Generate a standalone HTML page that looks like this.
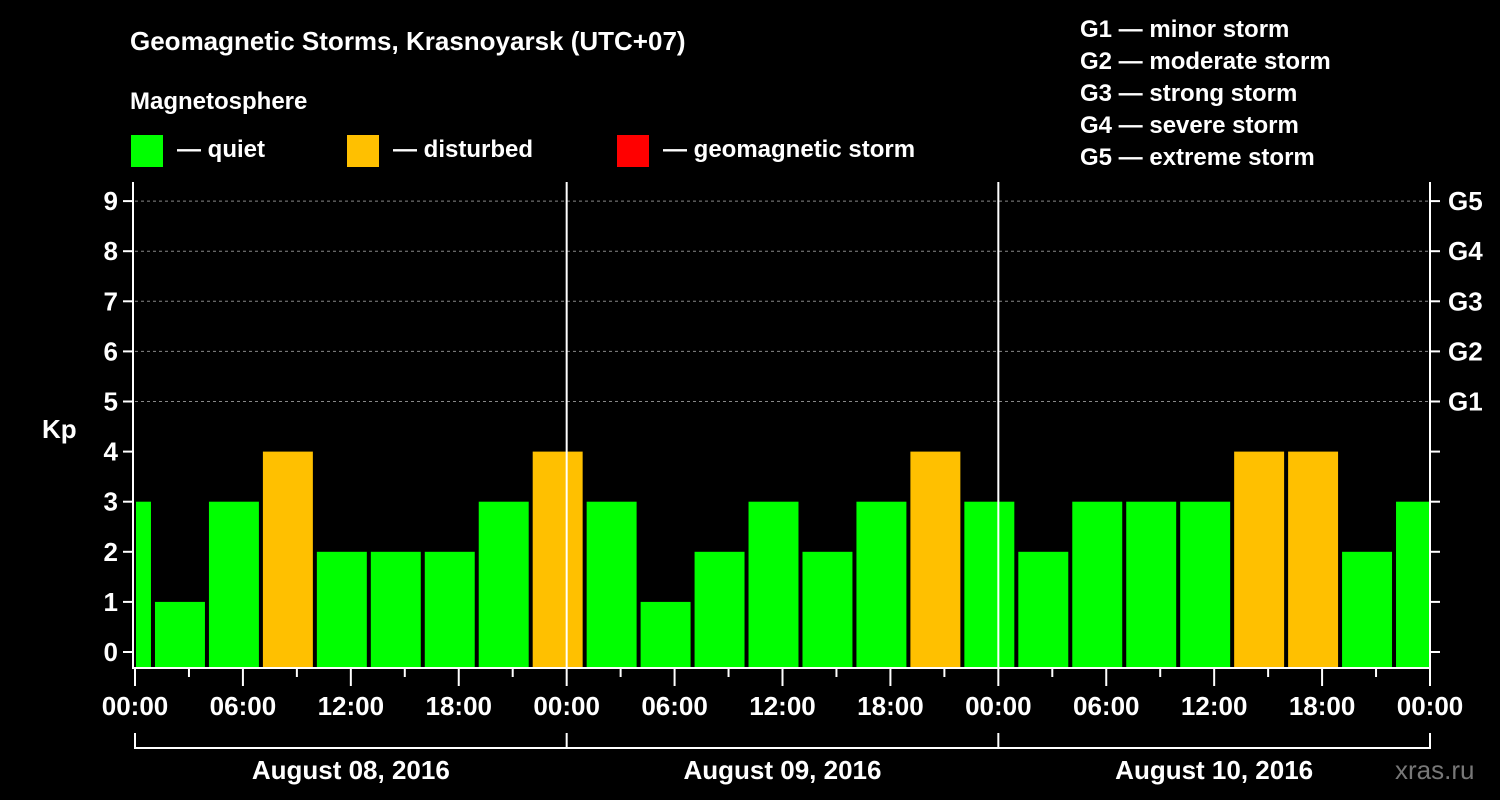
<!DOCTYPE html>
<html><head><meta charset="utf-8"><style>
body{margin:0;background:#000;}
svg{display:block;font-family:"Liberation Sans",Arial,sans-serif;font-weight:bold;}
</style></head><body>
<svg id="chart" width="1500" height="800" viewBox="0 0 1500 800">
<rect width="1500" height="800" fill="#000"/>
<text x="130" y="50" fill="#fff" font-size="26">Geomagnetic Storms, Krasnoyarsk (UTC+07)</text>
<text x="130" y="109" fill="#fff" font-size="24">Magnetosphere</text>
<g>
<rect x="131" y="135" width="32" height="32" fill="#00ff00"/>
<text x="177" y="157" fill="#fff" font-size="24">— quiet</text>
<rect x="347" y="135" width="32" height="32" fill="#ffc000"/>
<text x="393" y="157" fill="#fff" font-size="24">— disturbed</text>
<rect x="617" y="135" width="32" height="32" fill="#ff0000"/>
<text x="663" y="157" fill="#fff" font-size="24">— geomagnetic storm</text>
</g>
<g fill="#fff" font-size="24">
<text x="1080" y="37">G1 — minor storm</text>
<text x="1080" y="69">G2 — moderate storm</text>
<text x="1080" y="101">G3 — strong storm</text>
<text x="1080" y="133">G4 — severe storm</text>
<text x="1080" y="165">G5 — extreme storm</text>
</g>
<text x="42" y="438" fill="#fff" font-size="26">Kp</text>
<text x="1395" y="779" fill="#777" font-size="26" font-weight="normal">xras.ru</text>
<g id="grid"></g><g id="bars"></g><g id="axes"></g>
</svg>
<script>
const kpValues=[3,1,3,4,2,2,2,3,4,3,1,2,3,2,3,4,3,2,3,3,3,4,4,2,3];
const dayLabels=["August 08, 2016","August 09, 2016","August 10, 2016"];
const yTicks=[0,1,2,3,4,5,6,7,8,9];
const gLabels=["G1","G2","G3","G4","G5"];
const timeLabels=["00:00","06:00","12:00","18:00"];
const NS="http://www.w3.org/2000/svg";
const X0=135,X1=1430,HPX=(X1-X0)/72,TOP=182,BOT=668;
const xh=h=>X0+h*HPX;
const yv=v=>652-v*50.1;
function mk(tag,attrs,parent){const e=document.createElementNS(NS,tag);for(const k in attrs)e.setAttribute(k,attrs[k]);document.getElementById(parent).appendChild(e);return e;}
// grid
for(let v=5;v<=9;v++){const l=mk('line',{x1:X0,x2:X1,y1:yv(v),y2:yv(v),stroke:'#888','stroke-dasharray':'3,3'},'grid');

}
// bars: 3h intervals starting at local 22:00 of previous day
kpValues.forEach((v,i)=>{
 let s=-2+i*3,e=s+3;
 let xa=Math.max(xh(s)+2,X0+1),xb=Math.min(xh(e)-2,X1-1);
 const col=v>=5?'#ff0000':(v>=4?'#ffc000':'#00ff00');
 const r=mk('rect',{x:xa,y:yv(v),width:xb-xa,height:BOT-1-yv(v),fill:col},'bars');
 
 
});
// axes
const ax=(a)=>{const l=mk('line',Object.assign({stroke:'#fff','stroke-width':2},a),'axes');return l;};
let l;
l=ax({x1:X0-2,x2:X0-2,y1:TOP,y2:BOT+1});
l=ax({x1:X1,x2:X1,y1:TOP,y2:BOT+1});
l=ax({x1:X0-3,x2:X1+1,y1:BOT,y2:BOT});
for(let d=1;d<3;d++){l=ax({x1:xh(d*24),x2:xh(d*24),y1:TOP,y2:BOT});}
yTicks.forEach(v=>{
 l=ax({x1:X0-12,x2:X0-2,y1:yv(v),y2:yv(v)});
 l=ax({x1:X1,x2:X1+10,y1:yv(v),y2:yv(v)});
 const t=mk('text',{x:X0-17,y:yv(v)+9,fill:'#fff','font-size':26,'text-anchor':'end'},'axes');t.textContent=v;
 
});
gLabels.forEach((g,i)=>{const t=mk('text',{x:1448,y:yv(i+5)+9,fill:'#fff','font-size':26},'axes');t.textContent=g;
 });
for(let h=0;h<=72;h+=3){
 const long=h%6===0;
 l=ax({x1:xh(h),x2:xh(h),y1:BOT,y2:BOT+(long?18:9)});
 if(long){const t=mk('text',{x:xh(h),y:715,fill:'#fff','font-size':26,'text-anchor':'middle'},'axes');t.textContent=timeLabels[(h/6)%4];
 }
}
dayLabels.forEach((d,i)=>{
 l=ax({x1:xh(i*24),x2:xh(i*24),y1:733,y2:749});
 const t=mk('text',{x:xh(i*24+12),y:779,fill:'#fff','font-size':26,'text-anchor':'middle'},'axes');t.textContent=d;
 
});
l=ax({x1:X1,x2:X1,y1:733,y2:749});
l=ax({x1:X0-1,x2:X1+1,y1:748,y2:748});
</script>
</body></html>
